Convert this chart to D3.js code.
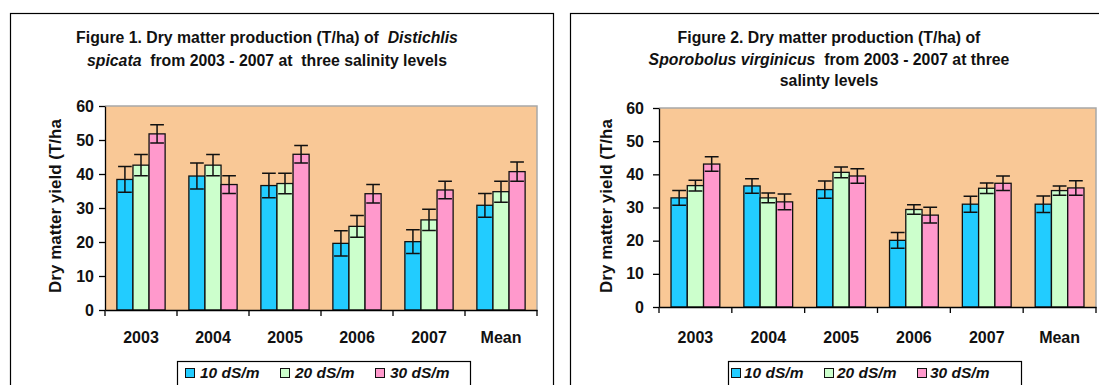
<!DOCTYPE html>
<html><head><meta charset="utf-8">
<script src="https://cdn.jsdelivr.net/npm/d3@7"></script>
<style>
body{margin:0;background:#fff;}
svg{display:block;font-family:Arial,"Liberation Sans",sans-serif;}
text{white-space:pre;}
</style>
</head><body>
<svg id="c" width="1099" height="385"></svg>
<script>
// ---------- data ----------
const categories = ["2003", "2004", "2005", "2006", "2007", "Mean"];
const seriesNames = ["10 dS/m", "20 dS/m", "30 dS/m"];
const seriesColors = ["#22CCFF", "#CCFFCC", "#FF99CC"];
const yTicks = [0, 10, 20, 30, 40, 50, 60];
const yLabel = "Dry matter yield (T/ha";

// Figure 1: Distichlis spicata
const fig1_10 = [38.4, 39.4, 36.6, 19.6, 20.1, 30.8];
const fig1_20 = [42.6, 42.6, 37.2, 24.6, 26.5, 34.8];
const fig1_30 = [51.8, 36.9, 45.8, 34.2, 35.3, 40.7];
const fig1_err10 = [3.8, 3.8, 3.6, 3.7, 3.5, 3.5];
const fig1_err20 = [3.1, 3.1, 3.0, 3.2, 3.1, 3.1];
const fig1_err30 = [2.7, 2.6, 2.6, 2.7, 2.6, 2.8];

// Figure 2: Sporobolus virginicus
const fig2_10 = [32.9, 36.5, 35.4, 20.1, 31.0, 31.0];
const fig2_20 = [36.6, 32.9, 40.6, 29.4, 35.8, 35.1];
const fig2_30 = [43.1, 31.7, 39.5, 27.7, 37.3, 35.9];
const fig2_err10 = [2.2, 2.2, 2.6, 2.4, 2.4, 2.5];
const fig2_err20 = [1.6, 1.5, 1.6, 1.4, 1.6, 1.4];
const fig2_err30 = [2.2, 2.4, 2.2, 2.4, 2.2, 2.2];

const fig1Title = [
  [["Figure 1. Dry matter production (T/ha) of  ", false], ["Distichlis", true]],
  [["spicata", true], ["  from 2003 - 2007 at  three salinity levels", false]]
];
const fig2Title = [
  [["Figure 2. Dry matter production (T/ha) of", false]],
  [["Sporobolus virginicus", true], ["  from 2003 - 2007 at three", false]],
  [["salinty levels", false]]
];

// ---------- layout ----------
const charts = [
  {
    values: [fig1_10, fig1_20, fig1_30], errors: [fig1_err10, fig1_err20, fig1_err30],
    title: fig1Title, titleX: 267, titleY: 43, titleDy: 23,
    frame: {x: 10.5, y: 13.5, w: 543, h: 400},
    left: 105, right: 537, top: 106, bottom: 310,
    tickPad: 5, yLabX: 61, yLabY: 206, xLabY: 343,
    legend: {x: 177.5, y: 361.5, w: 293, sq: 185, step: 95, txtOff: 15}
  },
  {
    values: [fig2_10, fig2_20, fig2_30], errors: [fig2_err10, fig2_err20, fig2_err30],
    title: fig2Title, titleX: 829, titleY: 43, titleDy: 21.5,
    frame: {x: 570.5, y: 13.5, w: 560, h: 400},
    left: 659, right: 1096, top: 108, bottom: 307,
    tickPad: 9, yLabX: 612, yLabY: 206, xLabY: 343,
    legend: {x: 728.5, y: 361.5, w: 293, sq: 731, step: 93, txtOff: 13}
  }
];

const svg = d3.select("#c");

function drawChart(cfg) {
  const g = svg.append("g");
  // outer frame
  g.append("rect").attr("x", cfg.frame.x).attr("y", cfg.frame.y)
    .attr("width", cfg.frame.w).attr("height", cfg.frame.h)
    .attr("fill", "#fff").attr("stroke", "#000").attr("stroke-width", 1.2);

  // title
  cfg.title.forEach((line, li) => {
    const t = g.append("text").attr("x", cfg.titleX).attr("y", cfg.titleY + li * cfg.titleDy)
      .attr("text-anchor", "middle").attr("font-size", 15.8).attr("font-weight", "bold").attr("fill", "#111");
    line.forEach(([s, it]) => {
      t.append("tspan").text(s).attr("font-style", it ? "italic" : "normal");
    });
  });

  const x0 = d3.scaleBand().domain(categories).range([cfg.left, cfg.right]).padding(0);
  const bw = x0.bandwidth();
  const x1 = d3.scaleBand().domain(seriesNames).range([bw * 0.165, bw * 0.835]).padding(0);
  const y = d3.scaleLinear().domain([0, 60]).range([cfg.bottom, cfg.top]);

  // plot background
  g.append("rect").attr("x", cfg.left).attr("y", y(60))
    .attr("width", cfg.right - cfg.left).attr("height", y(0) - y(60))
    .attr("fill", "#F9C896");
  g.append("path")
    .attr("d", `M${cfg.left},${y(60)}H${cfg.right}V${y(0)}`)
    .attr("fill", "none").attr("stroke", "#A8A8A8").attr("stroke-width", 1.5);

  // bars
  seriesNames.forEach((sn, si) => {
    g.append("g").selectAll("rect").data(categories).join("rect")
      .attr("x", c => x0(c) + x1(sn))
      .attr("y", (c, ci) => y(cfg.values[si][ci]))
      .attr("width", x1.bandwidth())
      .attr("height", (c, ci) => y(0) - y(cfg.values[si][ci]))
      .attr("fill", seriesColors[si]).attr("stroke", "#111").attr("stroke-width", 1.3);
  });
  // error bars
  seriesNames.forEach((sn, si) => {
    const cw = x1.bandwidth() * 0.85;
    categories.forEach((c, ci) => {
      const cx = x0(c) + x1(sn) + x1.bandwidth() / 2;
      const v = cfg.values[si][ci], e = cfg.errors[si][ci];
      g.append("path")
        .attr("d", `M${cx},${y(v + e)}V${y(v - e)}M${cx - cw / 2},${y(v + e)}H${cx + cw / 2}M${cx - cw / 2},${y(v - e)}H${cx + cw / 2}`)
        .attr("stroke", "#111").attr("stroke-width", 1.5).attr("fill", "none");
    });
  });

  // y axis
  const ya = g.append("g").attr("transform", `translate(${cfg.left},0)`)
    .call(d3.axisLeft(y).tickValues(yTicks).tickSize(6).tickSizeOuter(0).tickPadding(cfg.tickPad));
  ya.select(".domain").attr("stroke", "#000").attr("stroke-width", 1.3);
  ya.selectAll(".tick line").attr("stroke", "#000").attr("stroke-width", 1.3);
  ya.selectAll("text").attr("font-size", 16).attr("font-weight", "bold").attr("fill", "#111")
    .attr("font-family", "Arial, 'Liberation Sans', sans-serif");

  // x axis
  const xa = g.append("g").attr("transform", `translate(0,${cfg.bottom})`)
    .call(d3.axisBottom(x0).tickSize(0).tickSizeOuter(0).tickFormat(""));
  xa.select(".domain").attr("stroke", "#000").attr("stroke-width", 1.3);
  const bounds = categories.map(c => x0(c)).concat([x0.range()[1]]);
  g.append("g").selectAll("line").data(bounds).join("line")
    .attr("x1", d => d).attr("x2", d => d)
    .attr("y1", cfg.bottom).attr("y2", cfg.bottom + 6)
    .attr("stroke", "#000").attr("stroke-width", 1.3);
  g.append("g").selectAll("text").data(categories).join("text")
    .attr("x", c => x0(c) + bw / 2).attr("y", cfg.xLabY)
    .attr("text-anchor", "middle").attr("font-size", 16).attr("font-weight", "bold").attr("fill", "#111")
    .text(c => c);

  // y label
  g.append("text").attr("transform", `translate(${cfg.yLabX},${cfg.yLabY}) rotate(-90)`)
    .attr("text-anchor", "middle").attr("font-size", 17).attr("font-weight", "bold").attr("fill", "#111")
    .text(yLabel);

  // legend
  const L = cfg.legend;
  g.append("rect").attr("x", L.x).attr("y", L.y).attr("width", L.w).attr("height", 40)
    .attr("fill", "#fff").attr("stroke", "#000").attr("stroke-width", 1.2);
  seriesNames.forEach((sn, si) => {
    const sx = L.sq + si * L.step;
    g.append("rect").attr("x", sx + 0.5).attr("y", 368.5).attr("width", 9).attr("height", 9)
      .attr("fill", seriesColors[si]).attr("stroke", "#111").attr("stroke-width", 1);
    g.append("text").attr("x", sx + L.txtOff).attr("y", 377.5)
      .attr("font-size", 15.5).attr("font-weight", "bold").attr("font-style", "italic").attr("fill", "#111")
      .text(sn);
  });
}

charts.forEach(drawChart);
</script>
</body></html>
